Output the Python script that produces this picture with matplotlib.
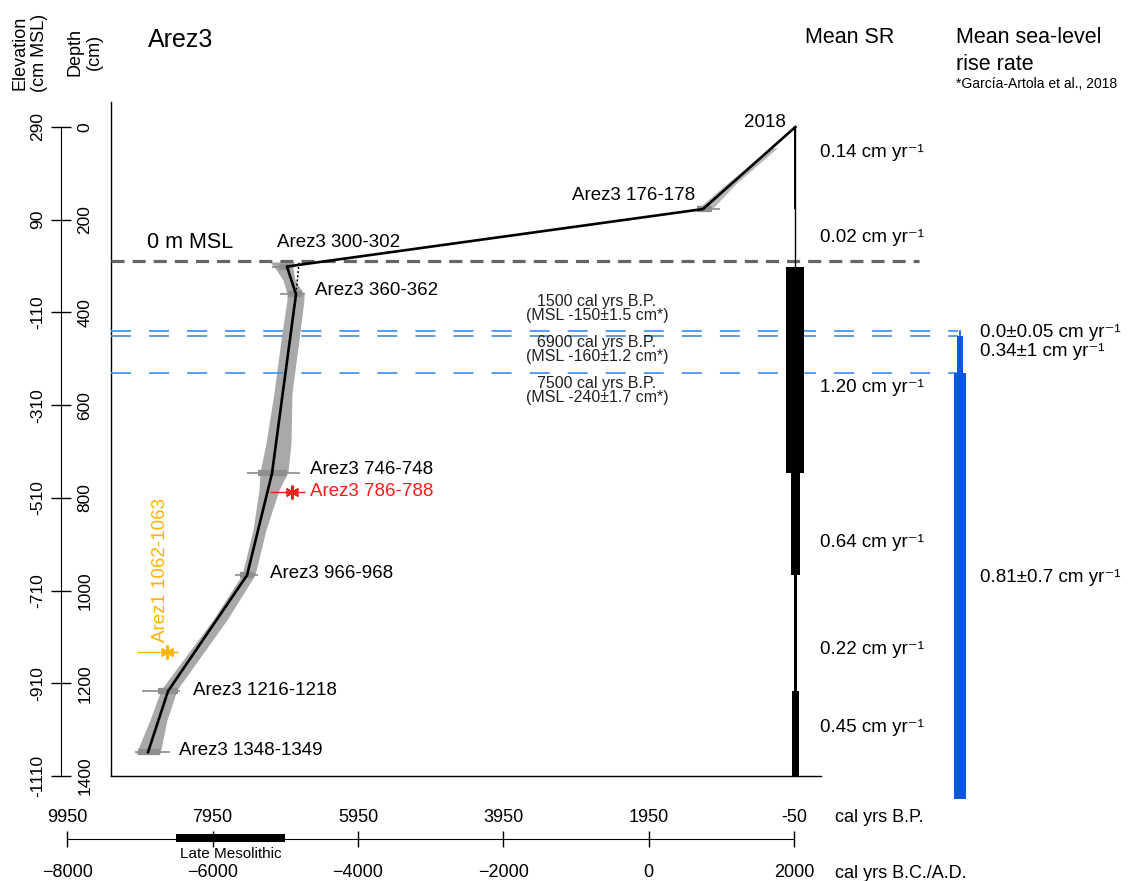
import numpy as np
import matplotlib
matplotlib.use("Agg")
import matplotlib.pyplot as plt

plt.rcParams["font.family"] = ["Liberation Sans", "DejaVu Sans"]
plt.rcParams["lines.scale_dashes"] = False

# age-depth model of core Arez3 (cal yrs BP vs depth in cm)
model_age = [-68, 1202, 6927, 6803, 7133, 7477, 8564, 8839]
model_depth = [0, 177, 301, 361, 747, 967, 1217, 1348.5]

# dated samples: median age, 2-sigma and 1-sigma ranges (old, young)
sample_names = ["Arez3 176-178", "Arez3 300-302", "Arez3 360-362", "Arez3 746-748",
                "Arez3 966-968", "Arez3 1216-1218", "Arez3 1348-1349"]
sample_depth = [177, 301, 361, 747, 967, 1217, 1348.5]
sample_age = [1202, 6927, 6803, 7133, 7477, 8564, 8839]
sample_old2 = [1285, 7133, 7023, 7477, 7642, 8922, 9018]
sample_young2 = [968, 6858, 6679, 6748, 7326, 8399, 8537]
sample_old1 = [1285, 7040, 6913, 7326, 7573, 8702, 8977]
sample_young1 = [1078, 6880, 6720, 6927, 7381, 8427, 8674]

# samples left out of the model
outlier_names = ["Arez3 786-788", "Arez1 1062-1063"]
outlier_depth = [787, 1132]
outlier_age = [6858, 8578]
outlier_old2 = [7161, 8991]
outlier_young2 = [6679, 8427]
outlier_old1 = [6954, 8660]
outlier_young1 = [6775, 8480]
outlier_colors = ["#ff1a1a", "#ffb300"]

# model uncertainty envelope
env_top_depth = [45, 120, 177]
env_top_old = [268, 858, 1285]
env_top_young = [180, 734, 1078]
env_depth = [291, 304, 330, 360, 373, 459, 574, 682, 744, 783, 869, 966, 1063, 1214, 1279, 1352]
env_old = [7161, 7092, 6982, 6927, 6927, 7009, 7106, 7216, 7298, 7312, 7395, 7546, 7945, 8661, 8812, 9005]
env_young = [6830, 6844, 6817, 6693, 6693, 6762, 6858, 6872, 6913, 7037, 7216, 7367, 7752, 8440, 8578, 8674]

# mean sedimentation rates (cm/yr) between depth boundaries
sr_bounds = [0, 177, 301, 747, 967, 1217, 1400]
sr_rates = [0.14, 0.02, 1.20, 0.64, 0.22, 0.45]
sr_label_depth = [56, 239, 561, 897, 1128, 1296]

# sea-level index points (Garcia-Artola et al., 2018)
sl_age = [1500, 6900, 7500]
sl_elev = [-150, -160, -240]
sl_err = [1.5, 1.2, 1.7]

# mean sea-level rise rates between the index points
slr_bounds = [440, 450, 530, 1450]
slr_rates = [0.0, 0.34, 0.81]
slr_labels = ["0.0\u00b10.05", "0.34\u00b11", "0.81\u00b10.7"]
slr_label_depth = [444, 485, 971]

DATUM = 290  # depth (cm) of 0 m MSL
depth_ticks = [0, 200, 400, 600, 800, 1000, 1200, 1400]
bp_ticks = [9950, 7950, 5950, 3950, 1950, -50]
bc_ticks = [-8000, -6000, -4000, -2000, 0, 2000]
mesolithic_bc = (-6500, -5000)

UNIT = " cm yr\u207b\u00b9"

W, H = 1142, 881
fig = plt.figure(figsize=(W / 100, H / 100), dpi=100)


def box(x0, y0, x1, y1):
    return [x0 / W, 1 - y1 / H, (x1 - x0) / W, (y1 - y0) / H]


def bp_at(px):
    # 9950 BP sits at x=67.3 px, -50 BP at x=794 px
    return 9950 - (px - 67.3) * 10000 / (794 - 67.3)


def depth_at(py):
    return (py - 127) * 1400 / (776 - 127)


def ftext(px, py, s, **kw):
    fig.text(px / W, 1 - py / H, s, **kw)


# main panel
ax = fig.add_axes(box(111, 102, 1142, 776))
ax.set_xlim(bp_at(111), bp_at(1142))
ax.set_ylim(1400, depth_at(102))
ax.set_xticks([])
ax.set_yticks([])
ax.spines["top"].set_visible(False)
ax.spines["right"].set_visible(False)
ax.spines["bottom"].set_bounds(bp_at(111), bp_at(821))
for s in ["left", "bottom"]:
    ax.spines[s].set_linewidth(1.0)

ax.fill_betweenx(env_top_depth, env_top_old, env_top_young, color="#b8b8b8", lw=0, zorder=1)
ax.fill_betweenx(env_depth, env_old, env_young, color="#a9a9a9", lw=0, zorder=1)

ax.hlines(sample_depth, sample_old2, sample_young2, color="#8a8a8a", lw=1.2, zorder=2)
ax.hlines(sample_depth, sample_old1, sample_young1, color="#8f8f8f", lw=4.5, zorder=2)

for name, d, a, o2, y2, o1, y1, c in zip(outlier_names, outlier_depth, outlier_age, outlier_old2,
                                          outlier_young2, outlier_old1, outlier_young1, outlier_colors):
    ax.hlines(d, o2, y2, color=c, lw=1.0, zorder=3)
    ax.hlines(d, o1, y1, color=c, lw=2.0, zorder=3)
    ax.plot(a, d, marker=(6, 2, 0), ms=10, mew=1.5, color=c, zorder=3)

ax.plot(model_age, model_depth, color="black", lw=1.9, zorder=4)
# alternative path skipping sample 300-302
ax.plot([6762, model_age[3]], [293, model_depth[3]], color="black", lw=1.1, ls=(0, (1.5, 1.5)), zorder=4)

# 0 m MSL line
ax.axhline(DATUM, xmin=0, xmax=(919 - 111) / (1142 - 111), color="#666666", lw=2.3,
           dashes=(9.4, 5.8), zorder=3)
ax.text(bp_at(147), depth_at(243), "0 m MSL", fontsize=15.5, va="center", ha="left")

# sea-level index points
sl_depth = [DATUM - e for e in sl_elev]
sl_text_dy = [22, -14, -18]
for a, e, err, d, dy in zip(sl_age, sl_elev, sl_err, sl_depth, sl_text_dy):
    ax.axhline(d, xmin=0, xmax=(958 - 111) / (1142 - 111), color="#4d94e8", lw=1.3,
               dashes=(14.4, 13), zorder=3)
    ax.annotate(f"{a} cal yrs B.P.\n(MSL {e}\u00b1{err} cm*)", (bp_at(597), d),
                xytext=(0, dy), textcoords="offset pixels", ha="center", va="center",
                fontsize=11.5, linespacing=0.92, color="#222222")

# sample labels
label_offsets = [(-8, 14), (-10, 24), (19, 4), (38, 4), (23, 2), (25, 1), (31, 2)]
for name, a, d, (dx, dy) in zip(sample_names, sample_age, sample_depth, label_offsets):
    ha = "right" if name.endswith("178") else "left"
    ax.annotate(name, (a, d), xytext=(dx, dy), textcoords="offset pixels",
                ha=ha, va="center", fontsize=13.5)
ax.annotate("2018", (model_age[0], model_depth[0]), xytext=(-9, 4), textcoords="offset pixels",
            ha="right", va="center", fontsize=13.5)
ax.annotate(outlier_names[0], (outlier_age[0], outlier_depth[0]), xytext=(18, 0),
            textcoords="offset pixels", ha="left", va="center", fontsize=13.5, color=outlier_colors[0])
ax.annotate(outlier_names[1], (outlier_age[1], outlier_depth[1]), xytext=(-7, 82),
            textcoords="offset pixels", ha="center", va="center", fontsize=13.5,
            rotation=90, color=outlier_colors[1])

# mean sedimentation rate column, centred on the core top age
SCALE = 206  # bar width (BP units) per cm/yr
sr_x = model_age[0]
ax.plot([sr_x, sr_x], [sr_bounds[0], sr_bounds[-1]], color="black", lw=1.0, zorder=4)
for top, bot, r, ld in zip(sr_bounds[:-1], sr_bounds[1:], sr_rates, sr_label_depth):
    ax.bar(sr_x, bot - top, bottom=top, width=r * SCALE, color="black", lw=0, zorder=4)
    ax.annotate(f"{r:.2f}{UNIT}", (sr_x, ld), xytext=(25, 0), textcoords="offset pixels",
                ha="left", va="center", fontsize=13.5)

# mean sea-level rise rate column
slr_x = bp_at(960)
for top, bot, r, lab, ld in zip(slr_bounds[:-1], slr_bounds[1:], slr_rates, slr_labels, slr_label_depth):
    if r == 0:
        ax.plot([slr_x, slr_x], [top, bot], color="#0a58e0", lw=1.2, clip_on=False, zorder=4)
    else:
        ax.bar(slr_x, bot - top, bottom=top, width=r * SCALE, color="#0a58e0", lw=0,
               clip_on=False, zorder=4)
    ax.annotate(f"{lab}{UNIT}", (slr_x, ld), xytext=(20, 0), textcoords="offset pixels",
                ha="left", va="center", fontsize=13.5)

# depth / elevation scale
axd = fig.add_axes(box(61, 102, 61.5, 776))
axd.set_ylim(ax.get_ylim())
axd.set_xticks([])
for s in ["top", "bottom", "right"]:
    axd.spines[s].set_visible(False)
axd.spines["left"].set_bounds(0, 1400)
axd.set_yticks(depth_ticks, labels=[str(d) for d in depth_ticks])
axd.tick_params(axis="y", left=True, right=False, labelleft=False, labelright=True,
                direction="inout", length=14.4, width=1.0, pad=4.3, labelsize=12.5, labelrotation=90)
for t in axd.yaxis.get_major_ticks():
    t.label2.set_va("center")
sec = axd.secondary_yaxis("left", functions=(lambda d: DATUM - d, lambda e: DATUM - e))
elev_ticks = [DATUM - d for d in depth_ticks]
sec.set_yticks(elev_ticks, labels=[str(e) for e in elev_ticks])
sec.spines["left"].set_visible(False)
sec.tick_params(axis="y", length=0, pad=11.5, labelsize=12.5, labelrotation=90)
for t in sec.yaxis.get_major_ticks():
    t.label1.set_va("center")

# time scale
axt = fig.add_axes(box(67.3, 837.5, 794, 838.5))
axt.set_xlim(9950, -50)
axt.set_ylim(-1, 1)
axt.set_yticks([])
for s in ["top", "left", "right"]:
    axt.spines[s].set_visible(False)
axt.set_xticks(bp_ticks, labels=[str(b) for b in bp_ticks])
axt.tick_params(axis="x", bottom=True, top=False, labelbottom=False, labeltop=True,
                direction="inout", length=11.5, width=1.0, pad=2.5, labelsize=13)
secx = axt.secondary_xaxis("bottom", functions=(lambda bp: 1950 - bp, lambda bc: 1950 - bc))
secx.set_xticks(bc_ticks, labels=[str(b).replace("-", "\u2212") for b in bc_ticks])
secx.spines["bottom"].set_visible(False)
secx.tick_params(axis="x", length=0, pad=18.5, labelsize=13)
meso_bp = [1950 - b for b in mesolithic_bc]
axt.plot(meso_bp, [0, 0], color="black", lw=5.8, solid_capstyle="butt", clip_on=False)
axt.annotate("Late Mesolithic", (np.mean(meso_bp), 0), xytext=(0, -9), textcoords="offset pixels",
             ha="center", va="top", fontsize=11)

# titles and column headings
ftext(148, 47, "Arez3", fontsize=18, va="baseline")
ftext(30, 53, "Elevation\n(cm MSL)", fontsize=13, rotation=90, ha="center", va="center")
ftext(85, 52, "Depth\n(cm)", fontsize=13, rotation=90, ha="center", va="center")
ftext(805, 43, "Mean SR", fontsize=15.5, va="baseline")
ftext(956, 43, "Mean sea-level", fontsize=15.5, va="baseline")
ftext(956, 70, "rise rate", fontsize=15.5, va="baseline")
ftext(956, 88, "*Garc\u00eda-Artola et al., 2018", fontsize=10, va="baseline")
ftext(835, 822, "cal yrs B.P.", fontsize=13, va="baseline")
ftext(835, 878, "cal yrs B.C./A.D.", fontsize=13, va="baseline")

fig.savefig("out.png", dpi=100)
